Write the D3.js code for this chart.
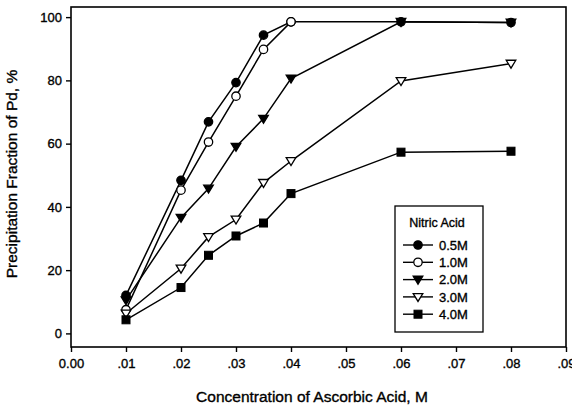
<!DOCTYPE html>
<html><head><meta charset="utf-8">
<script src="https://cdn.jsdelivr.net/npm/d3@7"></script>
<style>body{margin:0;background:#fff}svg{display:block}text{font-family:"Liberation Sans",Arial,sans-serif;fill:#000;stroke:#000;stroke-width:0.35px}</style>
</head><body><svg id="c" width="572" height="411"></svg>
<script>
const xValues = [0.01, 0.02, 0.025, 0.03, 0.035, 0.04, 0.06, 0.08];
const seriesNames = ["0.5M", "1.0M", "2.0M", "3.0M", "4.0M"];
const s05 = [12.0, 48.4, 66.9, 79.3, 94.3, 98.5, 98.5, 98.3];
const s10 = [7.5, 45.3, 60.5, 75.0, 89.8, 98.5];
const s20 = [10.5, 36.6, 45.8, 59.0, 67.9, 80.6, 98.5, 98.3];
const s30 = [6.3, 20.5, 30.5, 36.0, 47.6, 54.5, 79.8, 85.3];
const s40 = [4.3, 14.5, 24.7, 30.8, 34.9, 44.2, 57.3, 57.6];
const xTicks = [0, 0.01, 0.02, 0.03, 0.04, 0.05, 0.06, 0.07, 0.08, 0.09];
const yTicks = [0, 20, 40, 60, 80, 100];
const markers = ["circleFilled", "circleOpen", "triDownFilled", "triDownOpen", "squareFilled"];
const allSeries = [s05, s10, s20, s30, s40];

const svg = d3.select("#c");
const x = d3.scaleLinear().domain([0, 0.09]).range([71, 566]);
const y = d3.scaleLinear().domain([-4.3, 103.2]).range([347, 7]);

// frame
svg.append("rect").attr("x", 71).attr("y", 7).attr("width", 495).attr("height", 340)
  .attr("fill", "none").attr("stroke", "#000").attr("stroke-width", 1.6);

const fmtX = v => v === 0 ? "0.00" : d3.format(".2f")(v).replace(/^0/, "");
const xAxis = svg.append("g").attr("transform", "translate(0,347)")
  .call(d3.axisBottom(x).tickValues(xTicks).tickFormat(fmtX).tickSize(5).tickPadding(7));
const yAxis = svg.append("g").attr("transform", "translate(71,0)")
  .call(d3.axisLeft(y).tickValues(yTicks).tickSize(5).tickPadding(4));
[xAxis, yAxis].forEach(a => {
  a.select(".domain").remove();
  a.selectAll("line").attr("stroke", "#000").attr("stroke-width", 1.4);
  a.selectAll("text").attr("font-size", 13).attr("font-family", "Liberation Sans, Arial, sans-serif").attr("fill", "#000");
});

svg.append("text").attr("x", 312).attr("y", 402).attr("text-anchor", "middle")
  .attr("font-size", 15.5).text("Concentration of Ascorbic Acid, M");
svg.append("text").attr("transform", "translate(17,174) rotate(-90)").attr("text-anchor", "middle")
  .attr("font-size", 15.5).text("Precipitation Fraction of Pd, %");

function drawMarker(g, type, cx, cy) {
  if (type.startsWith("circle")) {
    g.append("circle").attr("cx", cx).attr("cy", cy).attr("r", 4.2)
      .attr("fill", type === "circleFilled" ? "#000" : "#fff").attr("stroke", "#000").attr("stroke-width", 1.3);
  } else if (type.startsWith("triDown")) {
    const s = 4.8;
    g.append("path").attr("d", `M${cx - s},${cy - s * 0.7}L${cx + s},${cy - s * 0.7}L${cx},${cy + s * 0.95}Z`)
      .attr("fill", type === "triDownFilled" ? "#000" : "#fff").attr("stroke", "#000").attr("stroke-width", 1.3);
  } else {
    g.append("rect").attr("x", cx - 4).attr("y", cy - 4).attr("width", 8).attr("height", 8)
      .attr("fill", "#000").attr("stroke", "#000").attr("stroke-width", 1);
  }
}

const line = d3.line().x(d => x(d[0])).y(d => y(d[1]));
allSeries.forEach((vals, i) => {
  const pts = vals.map((v, j) => [xValues[j], v]);
  svg.append("path").attr("d", line(pts)).attr("fill", "none").attr("stroke", "#000").attr("stroke-width", 1.5);
});
allSeries.forEach((vals, i) => {
  const g = svg.append("g");
  vals.forEach((v, j) => drawMarker(g, markers[i], x(xValues[j]), y(v)));
});

// legend
const lg = svg.append("g");
lg.append("rect").attr("x", 395).attr("y", 206).attr("width", 88).attr("height", 126)
  .attr("fill", "#fff").attr("stroke", "#000").attr("stroke-width", 1.3);
lg.append("text").attr("x", 437).attr("y", 227).attr("text-anchor", "middle").attr("font-size", 12.5).text("Nitric Acid");
seriesNames.forEach((name, i) => {
  const cy = 245 + i * 17.3;
  lg.append("line").attr("x1", 403).attr("x2", 433).attr("y1", cy).attr("y2", cy).attr("stroke", "#000").attr("stroke-width", 1.4);
  drawMarker(lg, markers[i], 418, cy);
  lg.append("text").attr("x", 439).attr("y", cy + 4.6).attr("font-size", 13).text(name);
});
</script></body></html>
